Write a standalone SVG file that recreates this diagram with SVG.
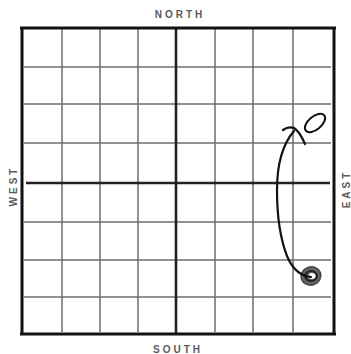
<svg xmlns="http://www.w3.org/2000/svg" width="351" height="354" viewBox="0 0 351 354">
<style>
.lbl{font-family:"Liberation Sans",Arial,sans-serif;font-size:10px;font-weight:bold;letter-spacing:3px;fill:#5a5a5a;text-anchor:middle}
.g{stroke:#6e6e6e;stroke-width:1.5;fill:none}
.c{stroke:#222;stroke-width:2.6;fill:none}
.b{stroke:#111;stroke-width:3;fill:none}
.ink{stroke:#111;stroke-width:2.2;fill:none;stroke-linecap:round;stroke-linejoin:round}
</style>
<rect width="351" height="354" fill="#fff"/>
<g id="grid">
<path class="g" d="M62 29V332M100 29V332M138 29V332M215 29V332M253 29V332M293 29V332"/>
<path class="g" d="M24 67H331M24 104H331M24 143H331M24 222H331M24 260H331M24 297H331"/>
<path class="c" d="M176 29V333M26 183H330"/>
<path class="b" d="M22 28V333M334 28V333M20 28H336M20 334H336"/>
</g>
<g id="labels">
<text class="lbl" x="180" y="18">NORTH</text>
<text class="lbl" x="178" y="353">SOUTH</text>
<text class="lbl" transform="translate(16.5,186) rotate(-90)">WEST</text>
<text class="lbl" transform="translate(350,189) rotate(-90)">EAST</text>
</g>
<g id="start">
<ellipse cx="311" cy="276" rx="10" ry="9" fill="#666" stroke="#444" stroke-width="1.5" transform="rotate(-20 311 276)"/>
<ellipse cx="311" cy="276" rx="6" ry="5" fill="none" stroke="#222" stroke-width="2"/>
<ellipse cx="312" cy="276" rx="3.5" ry="3" fill="#fff"/>
</g>
<g id="target">
<ellipse cx="315" cy="123" rx="12" ry="6.5" fill="none" stroke="#111" stroke-width="2" transform="rotate(-40 315 123)"/>
</g>
<g id="connectors">
<path class="ink" d="M311 277C300 276 292 268 287 256C280 238 277 212 277 190C277 165 282 145 294 131"/>
<path class="ink" d="M283 130C287 127 291 127 294 128C299 131 302 137 305 144"/>
</g>
</svg>
